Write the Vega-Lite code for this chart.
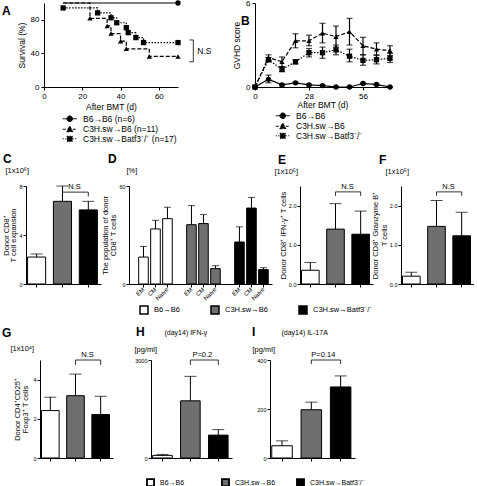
{
"$schema": "https://vega.github.io/schema/vega-lite/v6.json",
"padding": {"left": 2, "top": -1, "right": 0, "bottom": 0},
"background": "white",
"config": {
  "view": {"stroke": null},
  "font": "Liberation Sans",
  "axis": {"domainColor": "black", "tickColor": "black", "labelColor": "black", "titleColor": "black", "grid": false, "labelFont": "Liberation Sans", "titleFont": "Liberation Sans", "titleFontWeight": "normal", "labelFontSize": 5.5, "titleFontSize": 7.5, "tickSize": 3, "labelPadding": 1, "titlePadding": 1, "titleLineHeight": 8.5, "domainWidth": 1, "tickWidth": 1, "labelOverlap": false, "labelSeparation": -10},
  "axisX": {"labelOverlap": false},
  "axisY": {"labelOverlap": false},
  "axisQuantitative": {"labelOverlap": false},
  "legend": {"labelFont": "Liberation Sans", "labelColor": "black"},
  "title": {"anchor": "start", "frame": "group", "fontSize": 12, "fontWeight": "bold", "color": "black", "font": "Liberation Sans", "offset": 0},
  "rule": {"color": "black"},
  "tick": {"color": "black"},
  "text": {"color": "black", "font": "Liberation Sans"}
},
"datasets": {
  "surv": [
    {"g": "B6→B6", "day": 10, "pct": 100}, {"g": "B6→B6", "day": 70, "pct": 100},
    {"g": "C3H.sw→B6", "day": 10, "pct": 100}, {"g": "C3H.sw→B6", "day": 24, "pct": 81.8}, {"g": "C3H.sw→B6", "day": 33, "pct": 72.7}, {"g": "C3H.sw→B6", "day": 35, "pct": 63.6}, {"g": "C3H.sw→B6", "day": 40, "pct": 54.5}, {"g": "C3H.sw→B6", "day": 43, "pct": 45.5}, {"g": "C3H.sw→B6", "day": 55, "pct": 36.4}, {"g": "C3H.sw→B6", "day": 70, "pct": 36.4},
    {"g": "C3H.sw→Batf3⁻/⁻", "day": 10, "pct": 94.1}, {"g": "C3H.sw→Batf3⁻/⁻", "day": 28, "pct": 88.2}, {"g": "C3H.sw→Batf3⁻/⁻", "day": 35, "pct": 82.4}, {"g": "C3H.sw→Batf3⁻/⁻", "day": 38, "pct": 76.5}, {"g": "C3H.sw→Batf3⁻/⁻", "day": 43, "pct": 70.6}, {"g": "C3H.sw→Batf3⁻/⁻", "day": 44, "pct": 64.7}, {"g": "C3H.sw→Batf3⁻/⁻", "day": 48, "pct": 58.8}, {"g": "C3H.sw→Batf3⁻/⁻", "day": 52, "pct": 52.9}, {"g": "C3H.sw→Batf3⁻/⁻", "day": 70, "pct": 52.9}
  ],
  "survPts": [
    {"g": "B6→B6", "day": 70, "pct": 100},
    {"g": "C3H.sw→B6", "day": 24, "pct": 81.8}, {"g": "C3H.sw→B6", "day": 33, "pct": 72.7}, {"g": "C3H.sw→B6", "day": 35, "pct": 63.6}, {"g": "C3H.sw→B6", "day": 40, "pct": 54.5}, {"g": "C3H.sw→B6", "day": 43, "pct": 45.5}, {"g": "C3H.sw→B6", "day": 55, "pct": 36.4}, {"g": "C3H.sw→B6", "day": 70, "pct": 36.4},
    {"g": "C3H.sw→Batf3⁻/⁻", "day": 10, "pct": 94.1}, {"g": "C3H.sw→Batf3⁻/⁻", "day": 28, "pct": 88.2}, {"g": "C3H.sw→Batf3⁻/⁻", "day": 35, "pct": 82.4}, {"g": "C3H.sw→Batf3⁻/⁻", "day": 38, "pct": 76.5}, {"g": "C3H.sw→Batf3⁻/⁻", "day": 43, "pct": 70.6}, {"g": "C3H.sw→Batf3⁻/⁻", "day": 44, "pct": 64.7}, {"g": "C3H.sw→Batf3⁻/⁻", "day": 48, "pct": 58.8}, {"g": "C3H.sw→Batf3⁻/⁻", "day": 52, "pct": 52.9}, {"g": "C3H.sw→Batf3⁻/⁻", "day": 70, "pct": 52.9}
  ],
  "nsA": [{"x": 78, "xt": 76, "ya": 56, "yb": 30, "ym": 43, "t": "N.S"}],
  "gvhd": [
    {"g": "B6→B6", "day": 0, "s": 0, "lo": 0, "hi": 0}, {"g": "B6→B6", "day": 7, "s": 0.55, "lo": 0.3, "hi": 0.85}, {"g": "B6→B6", "day": 14, "s": 0.15, "lo": 0.1, "hi": 0.2}, {"g": "B6→B6", "day": 21, "s": 0.3, "lo": 0.25, "hi": 0.35}, {"g": "B6→B6", "day": 28, "s": 0.15, "lo": 0.1, "hi": 0.2}, {"g": "B6→B6", "day": 35, "s": 0.1, "lo": 0.05, "hi": 0.15}, {"g": "B6→B6", "day": 42, "s": 0, "lo": 0, "hi": 0}, {"g": "B6→B6", "day": 49, "s": 0, "lo": 0, "hi": 0}, {"g": "B6→B6", "day": 56, "s": 0.25, "lo": 0.2, "hi": 0.3}, {"g": "B6→B6", "day": 63, "s": 0.18, "lo": 0.13, "hi": 0.23}, {"g": "B6→B6", "day": 70, "s": 0, "lo": 0, "hi": 0},
    {"g": "C3H.sw→B6", "day": 0, "s": 0, "lo": 0, "hi": 0}, {"g": "C3H.sw→B6", "day": 7, "s": 2.1, "lo": 1.9, "hi": 2.3}, {"g": "C3H.sw→B6", "day": 14, "s": 1.8, "lo": 1.45, "hi": 2.15}, {"g": "C3H.sw→B6", "day": 21, "s": 3.3, "lo": 2.8, "hi": 3.8}, {"g": "C3H.sw→B6", "day": 28, "s": 3.3, "lo": 2.95, "hi": 3.7}, {"g": "C3H.sw→B6", "day": 35, "s": 3.85, "lo": 3.15, "hi": 4.55}, {"g": "C3H.sw→B6", "day": 42, "s": 3.6, "lo": 2.85, "hi": 4.35}, {"g": "C3H.sw→B6", "day": 49, "s": 3.95, "lo": 3.0, "hi": 4.9}, {"g": "C3H.sw→B6", "day": 56, "s": 2.95, "lo": 2.3, "hi": 3.55}, {"g": "C3H.sw→B6", "day": 63, "s": 2.7, "lo": 2.25, "hi": 3.15}, {"g": "C3H.sw→B6", "day": 70, "s": 2.6, "lo": 2.25, "hi": 2.95},
    {"g": "C3H.sw→Batf3⁻/⁻", "day": 0, "s": 0, "lo": 0, "hi": 0}, {"g": "C3H.sw→Batf3⁻/⁻", "day": 7, "s": 1.95, "lo": 1.8, "hi": 2.1}, {"g": "C3H.sw→Batf3⁻/⁻", "day": 14, "s": 1.25, "lo": 1.1, "hi": 1.45}, {"g": "C3H.sw→Batf3⁻/⁻", "day": 21, "s": 1.8, "lo": 1.65, "hi": 1.95}, {"g": "C3H.sw→Batf3⁻/⁻", "day": 28, "s": 2.45, "lo": 2.15, "hi": 2.75}, {"g": "C3H.sw→Batf3⁻/⁻", "day": 35, "s": 2.45, "lo": 2.05, "hi": 2.85}, {"g": "C3H.sw→Batf3⁻/⁻", "day": 42, "s": 2.65, "lo": 2.3, "hi": 3.0}, {"g": "C3H.sw→Batf3⁻/⁻", "day": 49, "s": 2.2, "lo": 1.8, "hi": 2.7}, {"g": "C3H.sw→Batf3⁻/⁻", "day": 56, "s": 1.9, "lo": 1.55, "hi": 2.3}, {"g": "C3H.sw→Batf3⁻/⁻", "day": 63, "s": 1.95, "lo": 1.65, "hi": 2.3}, {"g": "C3H.sw→Batf3⁻/⁻", "day": 70, "s": 2.05, "lo": 1.75, "hi": 2.4}
  ],
  "bC": [{"g": "B6→B6", "v": 2.2, "hi": 2.45}, {"g": "C3H.sw→B6", "v": 6.75, "hi": 8.0}, {"g": "C3H.sw→Batf3⁻/⁻", "v": 6.05, "hi": 6.75}],
  "bD": [
    {"k": "wEM", "g": "B6→B6", "v": 16.5, "hi": 23}, {"k": "wCM", "g": "B6→B6", "v": 33.7, "hi": 39}, {"k": "wNaive", "g": "B6→B6", "v": 40, "hi": 47},
    {"k": "gEM", "g": "C3H.sw→B6", "v": 36.3, "hi": 48}, {"k": "gCM", "g": "C3H.sw→B6", "v": 37, "hi": 42.5}, {"k": "gNaive", "g": "C3H.sw→B6", "v": 9.4, "hi": 11.2},
    {"k": "bEM", "g": "C3H.sw→Batf3⁻/⁻", "v": 25.7, "hi": 35}, {"k": "bCM", "g": "C3H.sw→Batf3⁻/⁻", "v": 46.5, "hi": 53}, {"k": "bNaive", "g": "C3H.sw→Batf3⁻/⁻", "v": 8.8, "hi": 10}
  ],
  "bE": [{"g": "B6→B6", "v": 0.35, "hi": 0.55}, {"g": "C3H.sw→B6", "v": 1.4, "hi": 2.05}, {"g": "C3H.sw→Batf3⁻/⁻", "v": 1.27, "hi": 1.86}],
  "bF": [{"g": "B6→B6", "v": 0.2, "hi": 0.3}, {"g": "C3H.sw→B6", "v": 1.47, "hi": 2.13}, {"g": "C3H.sw→Batf3⁻/⁻", "v": 1.23, "hi": 1.83}],
  "bG": [{"g": "B6→B6", "v": 2.42, "hi": 3.1}, {"g": "C3H.sw→B6", "v": 3.18, "hi": 4.28}, {"g": "C3H.sw→Batf3⁻/⁻", "v": 2.22, "hi": 3.15}],
  "bH": [{"g": "B6→B6", "v": 80, "hi": 110}, {"g": "C3H.sw→B6", "v": 1750, "hi": 2500}, {"g": "C3H.sw→Batf3⁻/⁻", "v": 700, "hi": 870}],
  "bI": [{"g": "B6→B6", "v": 50, "hi": 70}, {"g": "C3H.sw→B6", "v": 197, "hi": 228}, {"g": "C3H.sw→Batf3⁻/⁻", "v": 290, "hi": 335}],
  "nsC": [{"a": "C3H.sw→B6", "b": "C3H.sw→Batf3⁻/⁻", "y": 7.5, "y0": 7.15, "t": "N.S"}],
  "nsE": [{"a": "C3H.sw→B6", "b": "C3H.sw→Batf3⁻/⁻", "y": 2.35, "y0": 2.25, "t": "N.S"}],
  "nsF": [{"a": "C3H.sw→B6", "b": "C3H.sw→Batf3⁻/⁻", "y": 2.35, "y0": 2.25, "t": "N.S"}],
  "nsG": [{"a": "C3H.sw→B6", "b": "C3H.sw→Batf3⁻/⁻", "y": 5.0, "y0": 4.75, "t": "N.S"}],
  "nsH": [{"a": "C3H.sw→B6", "b": "C3H.sw→Batf3⁻/⁻", "y": 3000, "y0": 2850, "t": "P=0.2"}],
  "nsI": [{"a": "C3H.sw→B6", "b": "C3H.sw→Batf3⁻/⁻", "y": 400, "y0": 383, "t": "P=0.14"}]
},
"vconcat": [
  {
    "hconcat": [
      {"width": 18, "height": 84, "data": {"values": []}, "mark": {"type": "point"}, "encoding": {}},
      {
        "hconcat": [
          {
            "width": 134, "height": 84,
            "title": {"text": "A", "dx": -42, "dy": 22},
            "layer": [
              {"data": {"name": "surv"}, "mark": {"type": "line", "interpolate": "step-after", "strokeWidth": 1.2, "color": "black"},
               "encoding": {
                 "x": {"field": "day", "type": "quantitative", "scale": {"domain": [0, 70], "nice": false}, "axis": {"values": [0, 10, 20, 30, 40, 50, 60, 70], "labelOverlap": false, "labelSeparation": -10, "labelFlush": false, "title": "After BMT (d)", "labelFontSize": 8, "titleFontSize": 8.5, "titlePadding": 2, "labelPadding": 2}},
                 "y": {"field": "pct", "type": "quantitative", "scale": {"domain": [0, 100], "nice": false}, "axis": {"values": [0, 20, 40, 60, 80, 100], "labelOverlap": false, "labelFlush": false, "title": "Survival (%)", "labelFontSize": 8, "titleFontSize": 8.5, "titlePadding": 4, "labelPadding": 2}},
                 "detail": {"field": "g"},
                 "strokeDash": {"field": "g", "type": "nominal", "scale": {"range": [[1, 0], [4, 2], [1.5, 1.5]]}, "legend": null}
               }},
              {"data": {"name": "survPts"}, "mark": {"type": "point", "filled": true, "color": "black", "size": 28, "opacity": 1},
               "encoding": {
                 "x": {"field": "day", "type": "quantitative", "axis": {"values": [0, 10, 20, 30, 40, 50, 60, 70], "labelOverlap": false, "labelSeparation": -10, "labelFlush": false, "title": "After BMT (d)", "labelFontSize": 8, "titleFontSize": 8.5, "titlePadding": 2, "labelPadding": 2}},
                 "y": {"field": "pct", "type": "quantitative"},
                 "shape": {"field": "g", "type": "nominal", "scale": {"domain": ["B6→B6", "C3H.sw→B6", "C3H.sw→Batf3⁻/⁻"], "range": ["circle", "triangle-up", "square"]}, "legend": null}
               }},
              {"data": {"name": "survPts"}, "mark": {"type": "point", "filled": true, "fill": "black", "stroke": "black", "strokeWidth": 1, "opacity": 0, "size": 49},
               "encoding": {
                 "x": {"field": "day", "type": "quantitative"},
                 "y": {"field": "pct", "type": "quantitative"},
                 "shape": {"field": "g", "type": "nominal", "scale": {"domain": ["B6→B6", "C3H.sw→B6", "C3H.sw→Batf3⁻/⁻"], "range": ["M-2,0H2M0.8,0A0.8,0.8,0,1,1,-0.8,0A0.8,0.8,0,1,1,0.8,0Z", "M-2,0H2M0,-0.9L0.9,0.7L-0.9,0.7Z", "M-2,0H2M-0.75,-0.75H0.75V0.75H-0.75Z"]},
                   "legend": {"orient": "none", "legendX": 21.5, "legendY": 111.5, "title": null, "direction": "vertical", "symbolSize": 49, "symbolOpacity": 1, "symbolStrokeWidth": 1, "labelOffset": 9, "labelFontSize": 8.5, "rowPadding": -0.5,
                     "labelExpr": "datum.label == 'B6→B6' ? 'B6→B6 (n=6)' : datum.label == 'C3H.sw→B6' ? 'C3H.sw→B6 (n=11)' : datum.label + ' (n=17)'"}},
                 "strokeDash": {"field": "g", "type": "nominal", "scale": {"domain": ["B6→B6", "C3H.sw→B6", "C3H.sw→Batf3⁻/⁻"], "range": [[1, 0], [3, 2], [1, 1.5]]},
                   "legend": {"orient": "none", "legendX": 21.5, "legendY": 111.5, "title": null, "direction": "vertical", "symbolSize": 49, "symbolOpacity": 1, "symbolStrokeWidth": 1, "labelOffset": 9, "labelFontSize": 8.5, "rowPadding": -0.5,
                     "labelExpr": "datum.label == 'B6→B6' ? 'B6→B6 (n=6)' : datum.label == 'C3H.sw→B6' ? 'C3H.sw→B6 (n=11)' : datum.label + ' (n=17)'"}}
               }},
              {"data": {"name": "nsA"}, "mark": {"type": "rule", "strokeWidth": 0.8, "color": "black"},
               "encoding": {"x": {"field": "x", "type": "quantitative"}, "y": {"field": "ya", "type": "quantitative"}, "y2": {"field": "yb"}}},
              {"data": {"name": "nsA"}, "mark": {"type": "rule", "strokeWidth": 0.8, "color": "black"},
               "encoding": {"x": {"field": "xt", "type": "quantitative"}, "x2": {"field": "x"}, "y": {"field": "ya", "type": "quantitative"}}},
              {"data": {"name": "nsA"}, "mark": {"type": "rule", "strokeWidth": 0.8, "color": "black"},
               "encoding": {"x": {"field": "xt", "type": "quantitative"}, "x2": {"field": "x"}, "y": {"field": "yb", "type": "quantitative"}}},
              {"data": {"name": "nsA"}, "mark": {"type": "text", "fontSize": 8.5, "align": "left", "baseline": "middle", "dx": 4},
               "encoding": {"x": {"field": "x", "type": "quantitative"}, "y": {"field": "ym", "type": "quantitative"}, "text": {"field": "t"}}}
            ],
            "resolve": {"scale": {"shape": "independent", "strokeDash": "independent"}, "legend": {"shape": "independent", "strokeDash": "independent"}}
          },
          {
            "width": 135, "height": 84,
            "title": {"text": "B", "dx": -14, "dy": 33},
            "data": {"name": "gvhd"},
            "layer": [
              {"mark": {"type": "line", "strokeWidth": 1.2, "color": "black"},
               "encoding": {
                 "x": {"field": "day", "type": "quantitative", "scale": {"domain": [0, 70], "nice": false}, "axis": {"values": [0, 14, 28, 42, 56, 70], "labelOverlap": false, "labelSeparation": -10, "labelFlush": false, "title": "After BMT (d)", "labelFontSize": 8, "titleFontSize": 8.5, "titlePadding": 0, "labelPadding": 2}},
                 "y": {"field": "s", "type": "quantitative", "scale": {"domain": [0, 6], "nice": false}, "axis": {"values": [0, 2, 4, 6], "labelOverlap": false, "labelFlush": false, "title": "GVHD score", "labelFontSize": 8, "titleFontSize": 8.5, "titlePadding": 4, "labelPadding": 2}},
                 "detail": {"field": "g"},
                 "strokeDash": {"field": "g", "type": "nominal", "scale": {"range": [[1, 0], [4, 2], [1.5, 1.5]]}, "legend": null}
               }},
              {"mark": {"type": "rule", "strokeWidth": 1.2, "color": "black"},
               "encoding": {"x": {"field": "day", "type": "quantitative"}, "y": {"field": "lo", "type": "quantitative"}, "y2": {"field": "hi"}}},
              {"mark": {"type": "tick", "orient": "horizontal", "size": 6, "thickness": 1.2, "color": "black"},
               "encoding": {"x": {"field": "day", "type": "quantitative"}, "y": {"field": "lo", "type": "quantitative"}}},
              {"mark": {"type": "tick", "orient": "horizontal", "size": 6, "thickness": 1.2, "color": "black"},
               "encoding": {"x": {"field": "day", "type": "quantitative"}, "y": {"field": "hi", "type": "quantitative"}}},
              {"mark": {"type": "point", "filled": true, "color": "black", "size": 28, "opacity": 1},
               "encoding": {
                 "x": {"field": "day", "type": "quantitative", "axis": {"values": [0, 14, 28, 42, 56, 70], "labelOverlap": false, "labelSeparation": -10, "labelFlush": false, "title": "After BMT (d)", "labelFontSize": 8, "titleFontSize": 8.5, "titlePadding": 0, "labelPadding": 2}},
                 "y": {"field": "s", "type": "quantitative"},
                 "shape": {"field": "g", "type": "nominal", "scale": {"domain": ["B6→B6", "C3H.sw→B6", "C3H.sw→Batf3⁻/⁻"], "range": ["circle", "triangle-up", "square"]}, "legend": null}
               }},
              {"mark": {"type": "point", "filled": true, "fill": "black", "stroke": "black", "strokeWidth": 1, "opacity": 0, "size": 49},
               "encoding": {
                 "x": {"field": "day", "type": "quantitative"},
                 "y": {"field": "s", "type": "quantitative"},
                 "shape": {"field": "g", "type": "nominal", "scale": {"domain": ["B6→B6", "C3H.sw→B6", "C3H.sw→Batf3⁻/⁻"], "range": ["M-2,0H2M0.8,0A0.8,0.8,0,1,1,-0.8,0A0.8,0.8,0,1,1,0.8,0Z", "M-2,0H2M0,-0.9L0.9,0.7L-0.9,0.7Z", "M-2,0H2M-0.75,-0.75H0.75V0.75H-0.75Z"]},
                   "legend": {"orient": "none", "legendX": 23.5, "legendY": 108.5, "title": null, "direction": "vertical", "symbolSize": 49, "symbolOpacity": 1, "symbolStrokeWidth": 1, "labelOffset": 9, "labelFontSize": 8.5, "rowPadding": -0.5}},
                 "strokeDash": {"field": "g", "type": "nominal", "scale": {"domain": ["B6→B6", "C3H.sw→B6", "C3H.sw→Batf3⁻/⁻"], "range": [[1, 0], [3, 2], [1, 1.5]]},
                   "legend": {"orient": "none", "legendX": 23.5, "legendY": 108.5, "title": null, "direction": "vertical", "symbolSize": 49, "symbolOpacity": 1, "symbolStrokeWidth": 1, "labelOffset": 9, "labelFontSize": 8.5, "rowPadding": -0.5}}
               }}
            ],
            "resolve": {"scale": {"shape": "independent", "strokeDash": "independent"}, "legend": {"shape": "independent", "strokeDash": "independent"}}
          }
        ],
        "spacing": 77, "bounds": "flush", "align": "none",
        "resolve": {"scale": {"shape": "independent", "strokeDash": "independent"}, "legend": {"shape": "independent", "strokeDash": "independent"}}
      }
    ],
    "spacing": 0, "bounds": "flush", "align": "none",
    "resolve": {"scale": {"shape": "independent", "strokeDash": "independent"}, "legend": {"shape": "independent", "strokeDash": "independent"}}
  },
  {
    "hconcat": [
      {
        "width": 75, "height": 98,
        "title": {"text": "C", "dx": -23, "dy": 4},
        "layer": [
          {"data": {"name": "bC"}, "mark": {"type": "bar", "stroke": "black", "strokeWidth": 1},
           "encoding": {
             "x": {"field": "g", "type": "nominal", "sort": null, "scale": {"domain": ["B6→B6", "C3H.sw→B6", "C3H.sw→Batf3⁻/⁻"], "paddingInner": 0.3, "paddingOuter": 0.1, "align": 0.3}, "axis": {"title": null, "labels": false}},
             "y": {"field": "v", "type": "quantitative", "scale": {"domain": [0, 8], "nice": false}, "axis": {"values": [0, 2, 4, 6, 8], "title": ["Donor  CD8⁺", "T cell expansion"], "titleLineHeight": 7.5}},
             "fill": {"field": "g", "type": "nominal", "scale": {"domain": ["B6→B6", "C3H.sw→B6", "C3H.sw→Batf3⁻/⁻"], "range": ["#ffffff", "#6f6f6f", "#000000"]}, "legend": null}
           }},
          {"data": {"name": "bC"}, "mark": {"type": "rule", "strokeWidth": 1, "color": "black"},
           "encoding": {"x": {"field": "g", "type": "nominal", "bandPosition": 0.5, "axis": {"orient": "top", "domain": false, "ticks": false, "labels": false, "title": "[1x10⁶]", "titleAngle": 0, "titleAlign": "left", "titleBaseline": "alphabetic", "titleX": -21, "titleY": -14}},
             "y": {"field": "v", "type": "quantitative"}, "y2": {"field": "hi"}}},
          {"data": {"name": "bC"}, "mark": {"type": "tick", "orient": "horizontal", "size": 12, "thickness": 1, "color": "black"},
           "encoding": {"x": {"field": "g", "type": "nominal", "bandPosition": 0.5, "axis": null}, "y": {"field": "hi", "type": "quantitative"}}},
          {"data": {"name": "nsC"}, "mark": {"type": "rule", "strokeWidth": 0.8, "color": "black"},
           "encoding": {"x": {"field": "a", "type": "nominal", "bandPosition": 0.5, "axis": null}, "x2": {"field": "b"}, "y": {"field": "y", "type": "quantitative"}}},
          {"data": {"name": "nsC"}, "mark": {"type": "rule", "strokeWidth": 0.8, "color": "black"},
           "encoding": {"x": {"field": "a", "type": "nominal", "bandPosition": 0.5, "axis": null}, "y": {"field": "y", "type": "quantitative"}, "y2": {"field": "y0"}}},
          {"data": {"name": "nsC"}, "mark": {"type": "rule", "strokeWidth": 0.8, "color": "black"},
           "encoding": {"x": {"field": "b", "type": "nominal", "bandPosition": 0.5, "axis": null}, "y": {"field": "y", "type": "quantitative"}, "y2": {"field": "y0"}}},
          {"data": {"name": "nsC"}, "mark": {"type": "text", "fontSize": 7.5, "dx": 12, "dy": -1, "baseline": "bottom"},
           "encoding": {"x": {"field": "a", "type": "nominal", "bandPosition": 0.5, "axis": null}, "y": {"field": "y", "type": "quantitative"}, "text": {"field": "t"}}}
        ],
        "resolve": {"axis": {"x": "independent"}}
      },
      {
        "width": 143, "height": 98,
        "title": {"text": "D", "dx": -21, "dy": 4},
        "data": {"name": "bD"},
        "layer": [
          {"mark": {"type": "bar", "stroke": "black", "strokeWidth": 1},
           "encoding": {
             "x": {"field": "k", "type": "nominal", "sort": null, "scale": {"domain": ["wEM", "wCM", "wNaive", "gap1", "gEM", "gCM", "gNaive", "gap2", "bEM", "bCM", "bNaive"], "paddingInner": 0.2, "paddingOuter": 0.56, "align": 0.72},
               "axis": {"title": null, "values": ["wEM", "wCM", "wNaive", "gEM", "gCM", "gNaive", "bEM", "bCM", "bNaive"], "labelExpr": "substring(datum.label, 1)", "labelAngle": -45, "labelAlign": "right", "labelBaseline": "middle", "labelFontSize": 6, "labelPadding": 1}},
             "y": {"field": "v", "type": "quantitative", "scale": {"domain": [0, 60], "nice": false}, "axis": {"values": [0, 20, 40, 60], "title": ["The population of donor", "CD8⁺  T cells"]}},
             "fill": {"field": "g", "type": "nominal", "scale": {"domain": ["B6→B6", "C3H.sw→B6", "C3H.sw→Batf3⁻/⁻"], "range": ["#ffffff", "#6f6f6f", "#000000"]},
               "legend": {"orient": "none", "legendX": 10, "legendY": 119, "title": null, "direction": "horizontal", "symbolType": "square", "symbolSize": 64, "symbolStrokeColor": "black", "symbolStrokeWidth": 1.5, "labelFontSize": 7.5, "labelOffset": 5, "columnPadding": 28}}
           }},
          {"mark": {"type": "rule", "strokeWidth": 1, "color": "black"},
           "encoding": {"x": {"field": "k", "type": "nominal", "bandPosition": 0.5, "axis": {"orient": "top", "domain": false, "ticks": false, "labels": false, "title": "[%]", "titleAngle": 0, "titleAlign": "left", "titleBaseline": "alphabetic", "titleX": -3, "titleY": -14}},
             "y": {"field": "v", "type": "quantitative"}, "y2": {"field": "hi"}}},
          {"mark": {"type": "tick", "orient": "horizontal", "size": 7, "thickness": 1, "color": "black"},
           "encoding": {"x": {"field": "k", "type": "nominal", "bandPosition": 0.5, "axis": null}, "y": {"field": "hi", "type": "quantitative"}}}
        ],
        "resolve": {"axis": {"x": "independent"}}
      },
      {
        "width": 73, "height": 98,
        "title": {"text": "E", "dx": -22, "dy": 4},
        "layer": [
          {"data": {"name": "bE"}, "mark": {"type": "bar", "stroke": "black", "strokeWidth": 1},
           "encoding": {
             "x": {"field": "g", "type": "nominal", "sort": null, "scale": {"domain": ["B6→B6", "C3H.sw→B6", "C3H.sw→Batf3⁻/⁻"], "paddingInner": 0.3, "paddingOuter": 0.1, "align": 0.3}, "axis": {"title": null, "labels": false}},
             "y": {"field": "v", "type": "quantitative", "scale": {"domain": [0, 2.5], "nice": false}, "axis": {"values": [0, 0.5, 1, 1.5, 2, 2.5], "format": ".1f", "title": "Donor  CD8⁺ IFN-γ⁺  T cells"}},
             "fill": {"field": "g", "type": "nominal", "scale": {"domain": ["B6→B6", "C3H.sw→B6", "C3H.sw→Batf3⁻/⁻"], "range": ["#ffffff", "#6f6f6f", "#000000"]}, "legend": null}
           }},
          {"data": {"name": "bE"}, "mark": {"type": "rule", "strokeWidth": 1, "color": "black"},
           "encoding": {"x": {"field": "g", "type": "nominal", "bandPosition": 0.5, "axis": {"orient": "top", "domain": false, "ticks": false, "labels": false, "title": "[1x10⁵]", "titleAngle": 0, "titleAlign": "left", "titleBaseline": "alphabetic", "titleX": -26, "titleY": -13}},
             "y": {"field": "v", "type": "quantitative"}, "y2": {"field": "hi"}}},
          {"data": {"name": "bE"}, "mark": {"type": "tick", "orient": "horizontal", "size": 12, "thickness": 1, "color": "black"},
           "encoding": {"x": {"field": "g", "type": "nominal", "bandPosition": 0.5, "axis": null}, "y": {"field": "hi", "type": "quantitative"}}},
          {"data": {"name": "nsE"}, "mark": {"type": "rule", "strokeWidth": 0.8, "color": "black"},
           "encoding": {"x": {"field": "a", "type": "nominal", "bandPosition": 0.5, "axis": null}, "x2": {"field": "b"}, "y": {"field": "y", "type": "quantitative"}}},
          {"data": {"name": "nsE"}, "mark": {"type": "rule", "strokeWidth": 0.8, "color": "black"},
           "encoding": {"x": {"field": "a", "type": "nominal", "bandPosition": 0.5, "axis": null}, "y": {"field": "y", "type": "quantitative"}, "y2": {"field": "y0"}}},
          {"data": {"name": "nsE"}, "mark": {"type": "rule", "strokeWidth": 0.8, "color": "black"},
           "encoding": {"x": {"field": "b", "type": "nominal", "bandPosition": 0.5, "axis": null}, "y": {"field": "y", "type": "quantitative"}, "y2": {"field": "y0"}}},
          {"data": {"name": "nsE"}, "mark": {"type": "text", "fontSize": 7.5, "dx": 12, "dy": -1, "baseline": "bottom"},
           "encoding": {"x": {"field": "a", "type": "nominal", "bandPosition": 0.5, "axis": null}, "y": {"field": "y", "type": "quantitative"}, "text": {"field": "t"}}}
        ],
        "resolve": {"axis": {"x": "independent"}}
      },
      {
        "width": 73, "height": 98,
        "title": {"text": "F", "dx": -22, "dy": 4},
        "layer": [
          {"data": {"name": "bF"}, "mark": {"type": "bar", "stroke": "black", "strokeWidth": 1},
           "encoding": {
             "x": {"field": "g", "type": "nominal", "sort": null, "scale": {"domain": ["B6→B6", "C3H.sw→B6", "C3H.sw→Batf3⁻/⁻"], "paddingInner": 0.3, "paddingOuter": 0.1, "align": 0.3}, "axis": {"title": null, "labels": false}},
             "y": {"field": "v", "type": "quantitative", "scale": {"domain": [0, 2.5], "nice": false}, "axis": {"values": [0, 0.5, 1, 1.5, 2, 2.5], "format": ".1f", "title": ["Donor  CD8⁺ Granzyme B⁺", "T cells"]}},
             "fill": {"field": "g", "type": "nominal", "scale": {"domain": ["B6→B6", "C3H.sw→B6", "C3H.sw→Batf3⁻/⁻"], "range": ["#ffffff", "#6f6f6f", "#000000"]}, "legend": null}
           }},
          {"data": {"name": "bF"}, "mark": {"type": "rule", "strokeWidth": 1, "color": "black"},
           "encoding": {"x": {"field": "g", "type": "nominal", "bandPosition": 0.5, "axis": {"orient": "top", "domain": false, "ticks": false, "labels": false, "title": "[1x10⁵]", "titleAngle": 0, "titleAlign": "left", "titleBaseline": "alphabetic", "titleX": -16, "titleY": -13}},
             "y": {"field": "v", "type": "quantitative"}, "y2": {"field": "hi"}}},
          {"data": {"name": "bF"}, "mark": {"type": "tick", "orient": "horizontal", "size": 12, "thickness": 1, "color": "black"},
           "encoding": {"x": {"field": "g", "type": "nominal", "bandPosition": 0.5, "axis": null}, "y": {"field": "hi", "type": "quantitative"}}},
          {"data": {"name": "nsF"}, "mark": {"type": "rule", "strokeWidth": 0.8, "color": "black"},
           "encoding": {"x": {"field": "a", "type": "nominal", "bandPosition": 0.5, "axis": null}, "x2": {"field": "b"}, "y": {"field": "y", "type": "quantitative"}}},
          {"data": {"name": "nsF"}, "mark": {"type": "rule", "strokeWidth": 0.8, "color": "black"},
           "encoding": {"x": {"field": "a", "type": "nominal", "bandPosition": 0.5, "axis": null}, "y": {"field": "y", "type": "quantitative"}, "y2": {"field": "y0"}}},
          {"data": {"name": "nsF"}, "mark": {"type": "rule", "strokeWidth": 0.8, "color": "black"},
           "encoding": {"x": {"field": "b", "type": "nominal", "bandPosition": 0.5, "axis": null}, "y": {"field": "y", "type": "quantitative"}, "y2": {"field": "y0"}}},
          {"data": {"name": "nsF"}, "mark": {"type": "text", "fontSize": 7.5, "dx": 12, "dy": -1, "baseline": "bottom"},
           "encoding": {"x": {"field": "a", "type": "nominal", "bandPosition": 0.5, "axis": null}, "y": {"field": "y", "type": "quantitative"}, "text": {"field": "t"}}}
        ],
        "resolve": {"axis": {"x": "independent"}}
      }
    ],
    "spacing": 28, "bounds": "flush", "align": "none",
    "resolve": {"scale": {"fill": "independent"}, "legend": {"fill": "independent"}}
  },
  {
    "hconcat": [
      {"width": 14, "height": 98, "data": {"values": []}, "mark": {"type": "point"}, "encoding": {}},
      {
        "hconcat": [
          {
            "width": 73, "height": 98,
            "title": {"text": "G", "dx": -38, "dy": 0},
            "layer": [
              {"data": {"name": "bG"}, "mark": {"type": "bar", "stroke": "black", "strokeWidth": 1},
               "encoding": {
                 "x": {"field": "g", "type": "nominal", "sort": null, "scale": {"domain": ["B6→B6", "C3H.sw→B6", "C3H.sw→Batf3⁻/⁻"], "paddingInner": 0.3, "paddingOuter": 0.1, "align": 0.3}, "axis": {"title": null, "labels": false}},
                 "y": {"field": "v", "type": "quantitative", "scale": {"domain": [0, 5], "nice": false}, "axis": {"values": [0, 1, 2, 3, 4, 5], "title": ["Donor  CD4⁺CD25⁺", "Foxp3⁺ T cells"], "titlePadding": 3}},
                 "fill": {"field": "g", "type": "nominal", "scale": {"domain": ["B6→B6", "C3H.sw→B6", "C3H.sw→Batf3⁻/⁻"], "range": ["#ffffff", "#6f6f6f", "#000000"]}, "legend": null}
               }},
              {"data": {"name": "bG"}, "mark": {"type": "rule", "strokeWidth": 1, "color": "black"},
               "encoding": {"x": {"field": "g", "type": "nominal", "bandPosition": 0.5, "axis": {"orient": "top", "domain": false, "ticks": false, "labels": false, "title": "[1x10⁴]", "titleAngle": 0, "titleAlign": "left", "titleBaseline": "alphabetic", "titleX": -30, "titleY": -10}},
                 "y": {"field": "v", "type": "quantitative"}, "y2": {"field": "hi"}}},
              {"data": {"name": "bG"}, "mark": {"type": "tick", "orient": "horizontal", "size": 12, "thickness": 1, "color": "black"},
               "encoding": {"x": {"field": "g", "type": "nominal", "bandPosition": 0.5, "axis": null}, "y": {"field": "hi", "type": "quantitative"}}},
              {"data": {"name": "nsG"}, "mark": {"type": "rule", "strokeWidth": 0.8, "color": "black"},
               "encoding": {"x": {"field": "a", "type": "nominal", "bandPosition": 0.5, "axis": null}, "x2": {"field": "b"}, "y": {"field": "y", "type": "quantitative"}}},
              {"data": {"name": "nsG"}, "mark": {"type": "rule", "strokeWidth": 0.8, "color": "black"},
               "encoding": {"x": {"field": "a", "type": "nominal", "bandPosition": 0.5, "axis": null}, "y": {"field": "y", "type": "quantitative"}, "y2": {"field": "y0"}}},
              {"data": {"name": "nsG"}, "mark": {"type": "rule", "strokeWidth": 0.8, "color": "black"},
               "encoding": {"x": {"field": "b", "type": "nominal", "bandPosition": 0.5, "axis": null}, "y": {"field": "y", "type": "quantitative"}, "y2": {"field": "y0"}}},
              {"data": {"name": "nsG"}, "mark": {"type": "text", "fontSize": 7.5, "dx": 12, "dy": -1, "baseline": "bottom"},
               "encoding": {"x": {"field": "a", "type": "nominal", "bandPosition": 0.5, "axis": null}, "y": {"field": "y", "type": "quantitative"}, "text": {"field": "t"}}}
            ],
            "resolve": {"axis": {"x": "independent"}}
          },
          {
            "width": 81, "height": 98,
            "title": {"text": "H", "dx": -15, "dy": 15},
            "layer": [
              {"data": {"name": "bH"}, "mark": {"type": "bar", "stroke": "black", "strokeWidth": 1},
               "encoding": {
                 "x": {"field": "g", "type": "nominal", "sort": null, "scale": {"domain": ["B6→B6", "C3H.sw→B6", "C3H.sw→Batf3⁻/⁻"], "paddingInner": 0.3, "paddingOuter": 0.1, "align": 0.3}, "axis": {"title": null, "labels": false}},
                 "y": {"field": "v", "type": "quantitative", "scale": {"domain": [0, 3000], "nice": false}, "axis": {"values": [0, 1000, 2000, 3000], "format": "d", "title": "[pg/ml]", "titleAngle": 0, "titleAlign": "left", "titleBaseline": "alphabetic", "titleX": -17, "titleY": -9}},
                 "fill": {"field": "g", "type": "nominal", "scale": {"domain": ["B6→B6", "C3H.sw→B6", "C3H.sw→Batf3⁻/⁻"], "range": ["#ffffff", "#6f6f6f", "#000000"]},
                   "legend": {"orient": "none", "legendX": -5, "legendY": 118, "title": null, "direction": "horizontal", "symbolType": "square", "symbolSize": 50, "symbolStrokeColor": "black", "symbolStrokeWidth": 1.8, "labelFontSize": 7, "labelOffset": 5, "columnPadding": 4, "gridAlign": "all"}}
               }},
              {"data": {"name": "bH"}, "mark": {"type": "rule", "strokeWidth": 1, "color": "black"},
               "encoding": {"x": {"field": "g", "type": "nominal", "bandPosition": 0.5, "axis": {"orient": "top", "domain": false, "ticks": false, "labels": false, "title": "(day14)  IFN-γ", "titleAngle": 0, "titleAlign": "left", "titleBaseline": "alphabetic", "titleX": 13, "titleY": -26, "titleFontSize": 7}},
                 "y": {"field": "v", "type": "quantitative"}, "y2": {"field": "hi"}}},
              {"data": {"name": "bH"}, "mark": {"type": "tick", "orient": "horizontal", "size": 12, "thickness": 1, "color": "black"},
               "encoding": {"x": {"field": "g", "type": "nominal", "bandPosition": 0.5, "axis": null}, "y": {"field": "hi", "type": "quantitative"}}},
              {"data": {"name": "nsH"}, "mark": {"type": "rule", "strokeWidth": 0.8, "color": "black"},
               "encoding": {"x": {"field": "a", "type": "nominal", "bandPosition": 0.5, "axis": null}, "x2": {"field": "b"}, "y": {"field": "y", "type": "quantitative"}}},
              {"data": {"name": "nsH"}, "mark": {"type": "rule", "strokeWidth": 0.8, "color": "black"},
               "encoding": {"x": {"field": "a", "type": "nominal", "bandPosition": 0.5, "axis": null}, "y": {"field": "y", "type": "quantitative"}, "y2": {"field": "y0"}}},
              {"data": {"name": "nsH"}, "mark": {"type": "rule", "strokeWidth": 0.8, "color": "black"},
               "encoding": {"x": {"field": "b", "type": "nominal", "bandPosition": 0.5, "axis": null}, "y": {"field": "y", "type": "quantitative"}, "y2": {"field": "y0"}}},
              {"data": {"name": "nsH"}, "mark": {"type": "text", "fontSize": 7.5, "dx": 12, "dy": -1, "baseline": "bottom"},
               "encoding": {"x": {"field": "a", "type": "nominal", "bandPosition": 0.5, "axis": null}, "y": {"field": "y", "type": "quantitative"}, "text": {"field": "t"}}}
            ],
            "resolve": {"axis": {"x": "independent"}}
          },
          {
            "width": 85, "height": 98,
            "title": {"text": "I", "dx": -18, "dy": 15},
            "layer": [
              {"data": {"name": "bI"}, "mark": {"type": "bar", "stroke": "black", "strokeWidth": 1},
               "encoding": {
                 "x": {"field": "g", "type": "nominal", "sort": null, "scale": {"domain": ["B6→B6", "C3H.sw→B6", "C3H.sw→Batf3⁻/⁻"], "paddingInner": 0.3, "paddingOuter": 0.1, "align": 0.3}, "axis": {"title": null, "labels": false}},
                 "y": {"field": "v", "type": "quantitative", "scale": {"domain": [0, 400], "nice": false}, "axis": {"values": [0, 100, 200, 300, 400], "title": "[pg/ml]", "titleAngle": 0, "titleAlign": "left", "titleBaseline": "alphabetic", "titleX": -18, "titleY": -9}},
                 "fill": {"field": "g", "type": "nominal", "scale": {"domain": ["B6→B6", "C3H.sw→B6", "C3H.sw→Batf3⁻/⁻"], "range": ["#ffffff", "#6f6f6f", "#000000"]}, "legend": null}
               }},
              {"data": {"name": "bI"}, "mark": {"type": "rule", "strokeWidth": 1, "color": "black"},
               "encoding": {"x": {"field": "g", "type": "nominal", "bandPosition": 0.5, "axis": {"orient": "top", "domain": false, "ticks": false, "labels": false, "title": "(day14)  IL-17A", "titleAngle": 0, "titleAlign": "left", "titleBaseline": "alphabetic", "titleX": 11, "titleY": -26, "titleFontSize": 7}},
                 "y": {"field": "v", "type": "quantitative"}, "y2": {"field": "hi"}}},
              {"data": {"name": "bI"}, "mark": {"type": "tick", "orient": "horizontal", "size": 12, "thickness": 1, "color": "black"},
               "encoding": {"x": {"field": "g", "type": "nominal", "bandPosition": 0.5, "axis": null}, "y": {"field": "hi", "type": "quantitative"}}},
              {"data": {"name": "nsI"}, "mark": {"type": "rule", "strokeWidth": 0.8, "color": "black"},
               "encoding": {"x": {"field": "a", "type": "nominal", "bandPosition": 0.5, "axis": null}, "x2": {"field": "b"}, "y": {"field": "y", "type": "quantitative"}}},
              {"data": {"name": "nsI"}, "mark": {"type": "rule", "strokeWidth": 0.8, "color": "black"},
               "encoding": {"x": {"field": "a", "type": "nominal", "bandPosition": 0.5, "axis": null}, "y": {"field": "y", "type": "quantitative"}, "y2": {"field": "y0"}}},
              {"data": {"name": "nsI"}, "mark": {"type": "rule", "strokeWidth": 0.8, "color": "black"},
               "encoding": {"x": {"field": "b", "type": "nominal", "bandPosition": 0.5, "axis": null}, "y": {"field": "y", "type": "quantitative"}, "y2": {"field": "y0"}}},
              {"data": {"name": "nsI"}, "mark": {"type": "text", "fontSize": 7.5, "dx": 12, "dy": -1, "baseline": "bottom"},
               "encoding": {"x": {"field": "a", "type": "nominal", "bandPosition": 0.5, "axis": null}, "y": {"field": "y", "type": "quantitative"}, "text": {"field": "t"}}}
            ],
            "resolve": {"axis": {"x": "independent"}}
          }
        ],
        "spacing": 38, "bounds": "flush", "align": "none",
        "resolve": {"scale": {"fill": "independent"}, "legend": {"fill": "independent"}}
      }
    ],
    "spacing": 0, "bounds": "flush", "align": "none",
    "resolve": {"scale": {"fill": "independent"}, "legend": {"fill": "independent"}}
  }
],
"spacing": 9, "align": "none",
"resolve": {"scale": {"fill": "independent", "shape": "independent", "strokeDash": "independent"}, "legend": {"fill": "independent", "shape": "independent", "strokeDash": "independent"}}
}
